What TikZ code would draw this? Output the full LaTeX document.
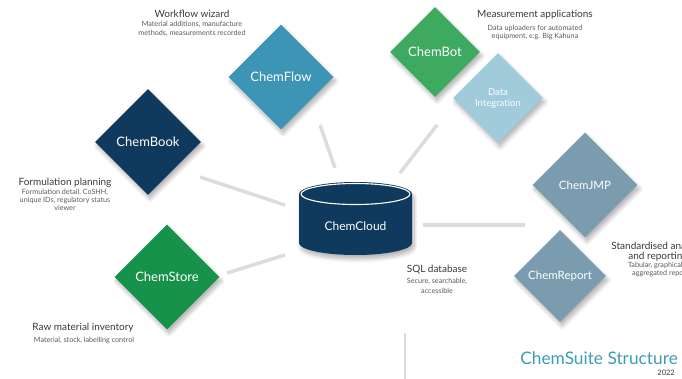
\documentclass[tikz,border=0pt]{standalone}
\usepackage{fontspec}
\setmainfont{Lato}
\usetikzlibrary{shapes.geometric,shadows,shadows.blur}
\definecolor{cfblue}{HTML}{3D95B6}
\definecolor{navy}{HTML}{0F3A5D}
\definecolor{cstore}{HTML}{16924B}
\definecolor{cbot}{HTML}{3DAA60}
\definecolor{dint}{HTML}{9FCBDB}
\definecolor{slate}{HTML}{7B9BAF}
\definecolor{connc}{HTML}{DCDCDC}
\definecolor{headc}{HTML}{383838}
\definecolor{subc}{HTML}{5A5A5A}
\definecolor{titlec}{HTML}{3C9BB8}
\begin{document}
\begin{tikzpicture}[x=1pt,y=-1pt,
  softshadow/.style={blur shadow={shadow xshift=2pt, shadow yshift=-4pt, shadow blur radius=4pt, shadow blur steps=8, shadow opacity=30}},
  dia/.style={diamond, aspect=1, inner sep=0pt, text=white, softshadow},
  link/.style={draw=connc, line width=3.5pt},
  head/.style={text=headc, font=\fontsize{10}{10}\selectfont, inner sep=0pt, align=center},
  sub/.style={text=subc, font=\fontsize{7.2}{8}\selectfont, align=center, inner sep=0pt},
  big/.style={font=\fontsize{13}{15}\selectfont},
  mid/.style={font=\fontsize{11.5}{13}\selectfont},
]
\useasboundingbox (0,0) rectangle (682,378);
\clip (0,0) rectangle (682,378);

% connectors
\coordinate (c1a) at (200,177); \coordinate (c1b) at (285,205);
\coordinate (c2a) at (227,273); \coordinate (c2b) at (285,255);
\coordinate (c3a) at (320,125); \coordinate (c3b) at (335,168);
\coordinate (c4a) at (437,125); \coordinate (c4b) at (400,173);
\coordinate (c5a) at (423,225); \coordinate (c5b) at (525,225);
\coordinate (c6a) at (405,333); \coordinate (c6b) at (405,380);
\draw[link] (c1a) -- (c1b);
\draw[link] (c2a) -- (c2b);
\draw[link] (c3a) -- (c3b);
\draw[link] (c4a) -- (c4b);
\draw[link] (c5a) -- (c5b);
\draw[draw=connc, line width=1.5pt] (c6a) -- (c6b);

% diamonds
\node[dia, fill=cfblue, minimum size=105pt, big] (flow) at (281,77) {ChemFlow};
\node[dia, fill=navy, minimum size=106pt, big] (book) at (148,142) {ChemBook};
\node[dia, fill=cstore, minimum size=105pt, big] (store) at (167,277) {ChemStore};
\node[dia, fill=cbot, minimum size=90pt, big] (bot) at (435,52) {ChemBot};
\node[dia, fill=dint, minimum size=90pt, align=center, font=\fontsize{9.5}{11}\selectfont] (dintg) at (498,98) {Data\\Integration};
\node[dia, fill=slate, minimum size=105pt, mid] (jmp) at (585,185) {ChemJMP};
\node[dia, fill=slate, minimum size=92pt, mid] (report) at (560,276) {ChemReport};

% cylinder
\fill[navy, softshadow]
  (299,194) -- (299,243) arc[start angle=180, end angle=360, x radius=56.5pt, y radius=12pt]
  -- (412,194) arc[start angle=0, end angle=180, x radius=56.5pt, y radius=12pt] -- cycle;
\draw[white, line width=1.1pt] (355.5,194) ellipse [x radius=54.5pt, y radius=10.5pt];
\node[text=white, font=\fontsize{12}{14}\selectfont] (cloud) at (355.5,226) {ChemCloud};

% labels
\node[head] (wfh) at (192,14) {Workflow wizard};
\node[sub, anchor=north, font=\fontsize{7.2}{9.2}\selectfont] (wfs) at (192,20.5) {Material additions, manufacture\\methods, measurements recorded};
\node[head] (mah) at (535,15) {Measurement applications};
\node[sub, anchor=north] (mas) at (535,25) {Data uploaders for automated\\equipment, e.g. Big Kahuna};
\node[head] (fph) at (65,183) {Formulation planning};
\node[sub, anchor=north] (fps) at (65,188.5) {Formulation detail, CoSHH,\\unique IDs, regulatory status\\viewer};
\node[head] (rmh) at (83,328) {Raw material inventory};
\node[sub] (rms) at (84,340) {Material, stock, labelling control};
\node[head] (sqh) at (437,270) {SQL database};
\node[sub, anchor=north, font=\fontsize{7.2}{9.5}\selectfont] (sqs) at (437,278) {Secure, searchable,\\accessible};
\node[head] (sah) at (658,252) {Standardised analysis\\and reporting};
\node[sub, anchor=north] (sas) at (662,262) {Tabular, graphical and\\aggregated reports};
\node[text=titlec, font=\fontsize{17.3}{19}\selectfont, anchor=east, inner sep=0pt] (title) at (678,358) {ChemSuite Structure};
\node[text=headc, font=\fontsize{7.5}{9}\selectfont, anchor=east, inner sep=0pt] (year) at (675,373) {2022};
\end{tikzpicture}
\end{document}
